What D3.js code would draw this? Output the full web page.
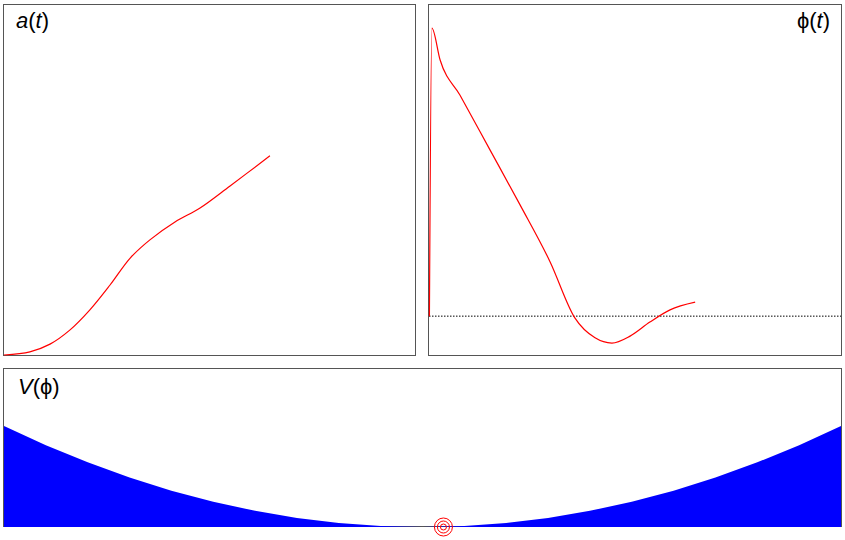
<!DOCTYPE html>
<html><head><meta charset="utf-8">
<script src="https://d3js.org/d3.v7.min.js"></script>
<style>body{margin:0;background:#fff}</style>
</head><body>
<div id="chart"></div>
<script>
// a(t): t in 0..100, a in 0..100
var aT = [0, 6.3, 11.2, 16, 20.9, 25.8, 30.7, 35.5, 41.6, 47.7, 55, 64.7];
var aV = [0, 0.9, 3.1, 7.1, 12.9, 20, 27.7, 32.9, 38, 42, 48.3, 56.9];
// phi(t): t 0..100, phi 0..100 (baseline at 11.1)
var phiT = [0.1, 0.7, 2.7, 7.5, 14.8, 22.1, 29.4, 35.4, 40.3, 44.4, 48.8, 53.6, 58.5, 64.6];
var phiV = [11.1, 93.4, 84.3, 74.3, 58.6, 42.9, 26.6, 10.6, 4.9, 3.4, 5.4, 9.4, 12.9, 15.1];
var phiBase = 11.1;
// V(phi): phi -1..1, V 0..1
var potPhi = [-1, -0.9, -0.8, -0.7, -0.6, -0.5, -0.4, -0.3, -0.2, -0.1, 0, 0.1, 0.2, 0.3, 0.4, 0.5, 0.6, 0.7, 0.8, 0.9, 1];
var potV = [1, 0.81, 0.64, 0.49, 0.36, 0.25, 0.16, 0.09, 0.04, 0.01, 0, 0.01, 0.04, 0.09, 0.16, 0.25, 0.36, 0.49, 0.64, 0.81, 1];
var fieldNow = 0.05;
var ringR = [3, 6, 9];

var svg = d3.select("#chart").append("svg").attr("width", 845).attr("height", 540);
var font = "Liberation Sans, Arial, sans-serif";

function panel(x, y, w, h) {
  svg.append("rect").attr("x", x).attr("y", y).attr("width", w).attr("height", h)
    .attr("fill", "none").attr("stroke", "#555").attr("stroke-width", 1);
}
panel(3.5, 4.5, 412, 351);
panel(428.5, 4.5, 413, 351);
panel(3.5, 368.5, 838, 158);

// a(t)
var xa = d3.scaleLinear().domain([0, 100]).range([4, 415]);
var ya = d3.scaleLinear().domain([0, 100]).range([355, 5]);
svg.append("path").datum(d3.range(aT.length))
  .attr("fill", "none").attr("stroke", "red").attr("stroke-width", 1.2)
  .attr("d", d3.line().curve(d3.curveCatmullRom).x(i => xa(aT[i])).y(i => ya(aV[i])));
svg.append("text").attr("x", 16).attr("y", 28).attr("font-family", font).attr("font-size", 22)
  .html('<tspan font-style="italic">a</tspan>(<tspan font-style="italic">t</tspan>)');

// phi(t)
var xp = d3.scaleLinear().domain([0, 100]).range([429, 841]);
var yp = d3.scaleLinear().domain([0, 100]).range([355, 5]);
svg.append("line").attr("x1", xp(0)).attr("x2", xp(100)).attr("y1", yp(phiBase)).attr("y2", yp(phiBase))
  .attr("stroke", "#000").attr("stroke-width", 1).attr("stroke-dasharray", "1.5,1.5");
svg.append("path").datum(d3.range(phiT.length))
  .attr("fill", "none").attr("stroke", "red").attr("stroke-width", 1.2)
  .attr("d", d3.line().curve(d3.curveMonotoneX).x(i => xp(phiT[i])).y(i => yp(phiV[i])));
svg.append("text").attr("x", 830).attr("y", 28).attr("text-anchor", "end").attr("font-family", font).attr("font-size", 22)
  .html('ϕ(<tspan font-style="italic">t</tspan>)');

// V(phi)
var xv = d3.scaleLinear().domain([-1, 1]).range([4, 841]);
var yv = d3.scaleLinear().domain([0, 1]).range([527, 426]);
svg.append("path").datum(d3.range(potPhi.length))
  .attr("fill", "#0000ff").attr("stroke", "none")
  .attr("d", d3.area().x(i => xv(potPhi[i])).y0(yv(0)).y1(i => yv(potV[i])));
svg.selectAll(".ring").data(ringR).enter().append("circle")
  .attr("cx", xv(fieldNow)).attr("cy", yv(0)).attr("r", d => d)
  .attr("fill", "none").attr("stroke", "red").attr("stroke-width", 1);
svg.append("text").attr("x", 18).attr("y", 394).attr("font-family", font).attr("font-size", 22)
  .html('<tspan font-style="italic">V</tspan>(ϕ)');
</script>
</body></html>
